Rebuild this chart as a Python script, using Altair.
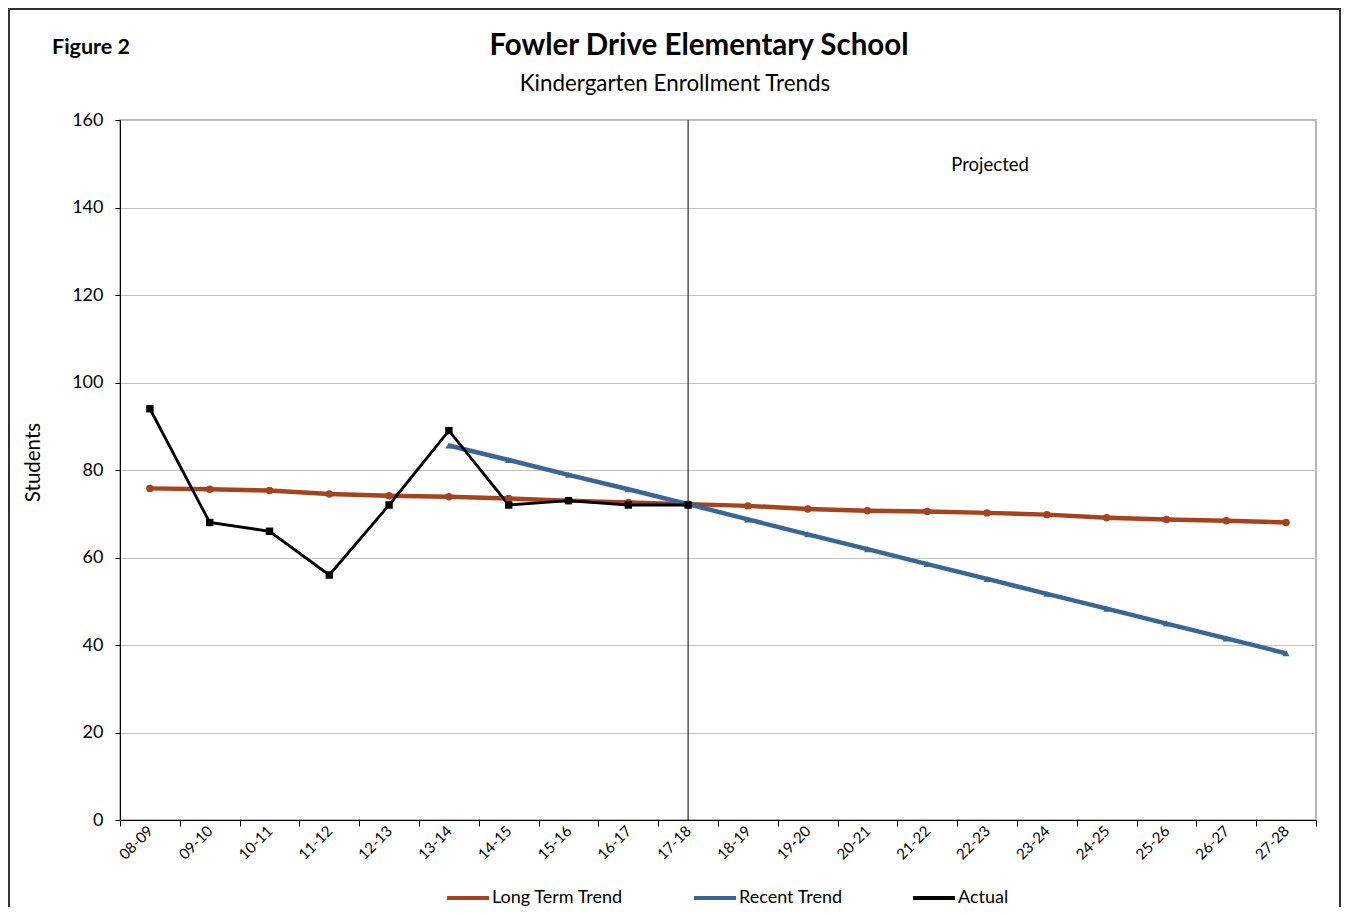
import altair as alt
import pandas as pd

categories = ["08-09", "09-10", "10-11", "11-12", "12-13", "13-14", "14-15", "15-16", "16-17", "17-18",
              "18-19", "19-20", "20-21", "21-22", "22-23", "23-24", "24-25", "25-26", "26-27", "27-28"]
long_term = [75.8, 75.6, 75.3, 74.5, 74.1, 73.9, 73.5, 73.0, 72.6, 72.2,
             71.8, 71.1, 70.7, 70.5, 70.2, 69.8, 69.1, 68.7, 68.4, 68.0]
recent = [None, None, None, None, None, 85.6, 82.3, 78.9, 75.6, 72.2,
          68.7, 65.3, 61.9, 58.5, 55.1, 51.7, 48.3, 44.9, 41.5, 38.1]
actual = [94, 68, 66, 56, 72, 89, 72, 73, 72, 72,
          None, None, None, None, None, None, None, None, None, None]
series_names = ["Long Term Trend", "Recent Trend", "Actual"]
series_colors = ["#A5431F", "#3A6598", "#000000"]
series_shapes = ["circle", "triangle-up", "square"]
series_widths = [4.5, 4.5, 2.8]
series_sizes = [55, 50, 55]
divider = "17-18"
projected_label = "Projected"
projected_at = ("22-23", 150)
title_text = "Fowler Drive Elementary School"
subtitle_text = "Kindergarten Enrollment Trends"
figure_text = "Figure 2"

rows = []
for name, vals in zip(series_names, [long_term, recent, actual]):
    for c, v in zip(categories, vals):
        if v is not None:
            rows.append({"Year": c, "Students": v, "Series": name})
df = pd.DataFrame(rows)

FONT = "Lato"
W, H = 1196, 700

xscale = alt.Scale(type="band", domain=categories, paddingInner=0, paddingOuter=0)
yscale = alt.Scale(domain=[0, 160], nice=False)

xenc = alt.X("Year:N", sort=categories, bandPosition=0.5, scale=xscale,
             axis=alt.Axis(title=None, labelAngle=-45, labelAlign="right", labelBaseline="middle",
                           tickBand="extent", tickSize=6, tickColor="#000000", domainColor="#000000",
                           labelFontSize=15, labelFont=FONT, labelColor="#000000", labelPadding=2,
                           grid=False))
yenc = alt.Y("Students:Q", scale=yscale,
             axis=alt.Axis(values=list(range(0, 161, 20)), tickSize=5, tickColor="#000000",
                           domainColor="#000000", labelFontSize=18, labelFont=FONT,
                           labelColor="#000000", labelPadding=12, gridColor="#C0C0C0",
                           title="Students", titleFont=FONT, titleFontSize=20.5,
                           titleFontWeight="normal", titleColor="#000000",
                           titleX=-87, titleY=342, titleAlign="center", titleBaseline="middle",
                           titleAngle=270))

color = alt.Color("Series:N", scale=alt.Scale(domain=series_names, range=series_colors),
                  legend=alt.Legend(title=None, orient="none", direction="horizontal",
                                    legendX=325, legendY=755, symbolType="stroke",
                                    symbolSize=1764, symbolStrokeWidth=4, labelFont=FONT,
                                    labelFontSize=18, labelColor="#000000", labelOffset=1,
                                    columnPadding=62, padding=0))

layers = []
for name, w in zip(series_names, series_widths):
    layers.append(
        alt.Chart(df).transform_filter(alt.datum.Series == name)
        .mark_line(strokeWidth=w).encode(x=xenc, y=yenc, color=color)
    )
for name, col, shp, sz in zip(series_names, series_colors, series_shapes, series_sizes):
    layers.append(
        alt.Chart(df).transform_filter(alt.datum.Series == name)
        .mark_point(filled=True, opacity=1, shape=shp, size=sz, color=col)
        .encode(x=xenc, y=yenc)
    )

rule = alt.Chart(pd.DataFrame({"Year": [divider]})).mark_rule(color="#000000", strokeWidth=1).encode(
    x=alt.X("Year:N", sort=categories, bandPosition=0.5, scale=xscale)
)

proj = alt.Chart(pd.DataFrame({"Year": [projected_at[0]], "Students": [projected_at[1]], "t": [projected_label]})).mark_text(
    font=FONT, fontSize=18.5, color="#000000", align="center", baseline="middle", dx=3, dy=1
).encode(
    x=alt.X("Year:N", sort=categories, bandPosition=0.5, scale=xscale),
    y=alt.Y("Students:Q", scale=yscale),
    text="t:N",
)

labels = pd.DataFrame({"t": [figure_text, subtitle_text, title_text]})
fig_label = alt.Chart(labels.iloc[[0]]).mark_text(
    font=FONT, fontSize=21.5, fontWeight="bold", color="#000000", align="left", baseline="middle"
).encode(x=alt.value(-68), y=alt.value(-72), text="t:N")
subtitle = alt.Chart(labels.iloc[[1]]).mark_text(
    font=FONT, fontSize=22.4, color="#000000", align="center", baseline="middle"
).encode(x=alt.value(555), y=alt.value(-36), text="t:N")
title = alt.Chart(labels.iloc[[2]]).mark_text(
    font=FONT, fontSize=29.5, fontWeight="bold", color="#000000", align="center", baseline="middle"
).encode(x=alt.value(579), y=alt.value(-74), text="t:N")

frame = alt.Chart(pd.DataFrame({"a": [0]})).mark_rect(fill=None, stroke="#333333", strokeWidth=2).encode(
    x=alt.value(-111), x2=alt.value(W + 24), y=alt.value(-111), y2=alt.value(H + 200)
)

chart = alt.layer(frame, rule, *layers, proj, fig_label, subtitle, title).properties(
    width=W, height=H,
    autosize=alt.AutoSizeParams(type="none"),
    padding={"left": 112, "top": 112, "right": 26, "bottom": 87},
    background="white",
).configure_view(stroke="#A0A0A0", strokeWidth=1.5)

chart.save("out.html", embed_options={"renderer": "svg", "actions": False})
